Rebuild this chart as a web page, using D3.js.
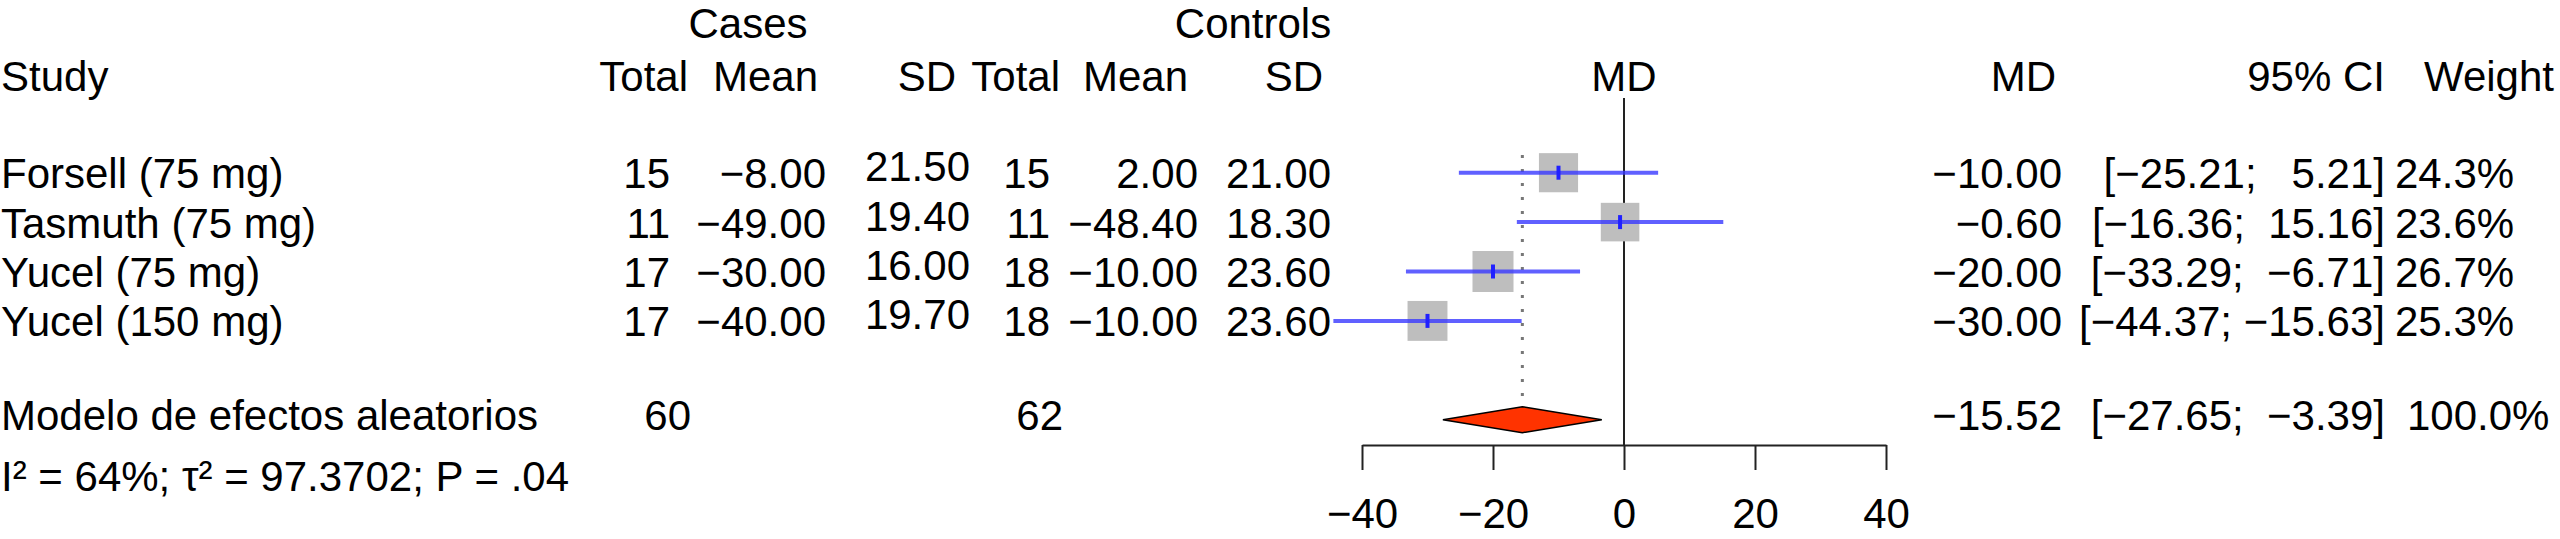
<!DOCTYPE html>
<html>
<head>
<meta charset="utf-8">
<script src="https://cdn.jsdelivr.net/npm/d3@7.8.5/dist/d3.min.js"></script>
<style>
  body { margin: 0; background: #fff; }
  svg text { font-family: "Liberation Sans", Arial, Helvetica, sans-serif; font-size: 42px; fill: #000; white-space: pre; }
</style>
</head>
<body>
<script>
// study data
const studies = ["Forsell (75 mg)", "Tasmuth (75 mg)", "Yucel (75 mg)", "Yucel (150 mg)"];
const casesTotal = [15, 11, 17, 17];
const casesMean = [-8.00, -49.00, -30.00, -40.00];
const casesSD = [21.50, 19.40, 16.00, 19.70];
const ctrlTotal = [15, 11, 18, 18];
const ctrlMean = [2.00, -48.40, -10.00, -10.00];
const ctrlSD = [21.00, 18.30, 23.60, 23.60];
const md = [-10.00, -0.60, -20.00, -30.00];
const ciLower = [-25.21, -16.36, -33.29, -44.37];
const ciUpper = [5.21, 15.16, -6.71, -15.63];
const weight = [24.3, 23.6, 26.7, 25.3];

// pooled (random effects)
const pooledLabel = "Modelo de efectos aleatorios";
const pooledTotals = [60, 62];
const pooledMD = -15.52;
const pooledCI = [-27.65, -3.39];
const pooledWeight = 100.0;
const heterogeneity = "I\u00b2 = 64%; \u03c4\u00b2 = 97.3702; P = .04";

const xTicks = [-40, -20, 0, 20, 40];

const W = 2560, H = 539;
const svg = d3.select("body").append("svg")
    .attr("width", W)
    .attr("height", H);

const f2 = d3.format(".2f");
const f1 = d3.format(".1f");

// row positions (0..3 studies, 5 pooled)
const y = d3.scaleLinear().domain([0, 1]).range([172.7, 222.1]);
const x = d3.scaleLinear().domain([-40, 40]).range([1362, 1886]);
const side = d3.scaleSqrt().domain([0, d3.max(weight)]).range([0, 41]);

// header
const hdr = svg.append("g");
hdr.append("text").attr("x", 748).attr("y", 38).attr("text-anchor", "middle").text("Cases");
hdr.append("text").attr("x", 1253).attr("y", 38).attr("text-anchor", "middle").text("Controls");
hdr.append("text").attr("x", 1).attr("y", 91).text("Study");
[["Total", 688], ["Mean", 818], ["SD", 956], ["Total", 1060], ["Mean", 1188], ["SD", 1323],
 ["MD", 2056], ["95% CI", 2385], ["Weight", 2554]].forEach(([t, px]) => {
    hdr.append("text").attr("x", px).attr("y", 91).attr("text-anchor", "end").text(t);
});
hdr.append("text").attr("x", x(0)).attr("y", 91).attr("text-anchor", "middle").text("MD");

// CI text like R's formatCI
const uppers = ciUpper.concat([pooledCI[1]]).map(f2);
const upW = d3.max(uppers, s => s.length);
function ciText(l, u) {
    const us = f2(u);
    return "[" + f2(l) + "; " + " ".repeat(upW - us.length) + us + "]";
}

// study rows
const cols = [
    {vals: casesTotal, fmt: String, x: 670, dy: 0},
    {vals: casesMean, fmt: f2, x: 826, dy: 0},
    {vals: casesSD, fmt: f2, x: 970, dy: -7},
    {vals: ctrlTotal, fmt: String, x: 1050, dy: 0},
    {vals: ctrlMean, fmt: f2, x: 1198, dy: 0},
    {vals: ctrlSD, fmt: f2, x: 1331, dy: 0},
    {vals: md, fmt: f2, x: 2062, dy: 0}
];

const rows = svg.append("g");
studies.forEach((s, i) => {
    const by = y(i) + 15.5;
    rows.append("text").attr("x", 1).attr("y", by).text(s);
    cols.forEach(c => {
        rows.append("text").attr("x", c.x).attr("y", by + c.dy)
            .attr("text-anchor", "end").text(c.fmt(c.vals[i]));
    });
    rows.append("text").attr("x", 2385).attr("y", by).attr("text-anchor", "end")
        .text(ciText(ciLower[i], ciUpper[i]));
    rows.append("text").attr("x", 2395).attr("y", by).text(f1(weight[i]) + "%");
});

// pooled row
const py = y(5);
rows.append("text").attr("x", 1).attr("y", 430).text(pooledLabel);
rows.append("text").attr("x", 691).attr("y", 430).attr("text-anchor", "end").text(pooledTotals[0]);
rows.append("text").attr("x", 1063).attr("y", 430).attr("text-anchor", "end").text(pooledTotals[1]);
rows.append("text").attr("x", 2062).attr("y", 430).attr("text-anchor", "end").text(f2(pooledMD));
rows.append("text").attr("x", 2385).attr("y", 430).attr("text-anchor", "end").text(ciText(pooledCI[0], pooledCI[1]));
rows.append("text").attr("x", 2407).attr("y", 430).text(f1(pooledWeight) + "%");
rows.append("text").attr("x", 1).attr("y", 491).text(heterogeneity);

// plot
const plot = svg.append("g");
const axisY = 445;

plot.append("line")
    .attr("x1", x(0)).attr("x2", x(0))
    .attr("y1", 98).attr("y2", axisY)
    .attr("stroke", "#222").attr("stroke-width", 2);

plot.append("line")
    .attr("x1", x(pooledMD)).attr("x2", x(pooledMD))
    .attr("y1", 155).attr("y2", py - 13)
    .attr("stroke", "#777").attr("stroke-width", 3)
    .attr("stroke-dasharray", "3,11");

const g = plot.selectAll("g.study").data(md).join("g").attr("class", "study");
g.append("rect")
    .attr("x", (d, i) => x(d) - side(weight[i]) / 2)
    .attr("y", (d, i) => y(i) - side(weight[i]) / 2)
    .attr("width", (d, i) => side(weight[i]))
    .attr("height", (d, i) => side(weight[i]))
    .attr("fill", "#bebebe");
g.append("line")
    .attr("x1", (d, i) => x(ciLower[i]))
    .attr("x2", (d, i) => x(ciUpper[i]))
    .attr("y1", (d, i) => y(i)).attr("y2", (d, i) => y(i))
    .attr("stroke", "#3838ff").attr("stroke-opacity", 0.8).attr("stroke-width", 4);
g.append("line")
    .attr("x1", d => x(d)).attr("x2", d => x(d))
    .attr("y1", (d, i) => y(i) - 7).attr("y2", (d, i) => y(i) + 7)
    .attr("stroke", "#2020ff").attr("stroke-width", 4);

plot.append("polygon")
    .attr("points", [
        [x(pooledCI[0]), py], [x(pooledMD), py - 13],
        [x(pooledCI[1]), py], [x(pooledMD), py + 13]
    ].map(p => p.join(",")).join(" "))
    .attr("fill", "#ff3300").attr("stroke", "#000").attr("stroke-width", 1.5);

const axis = plot.append("g")
    .attr("transform", `translate(0,${axisY})`)
    .call(d3.axisBottom(x).tickValues(xTicks).tickSize(25).tickSizeOuter(0).tickPadding(28));
axis.select(".domain").attr("stroke", "#222").attr("stroke-width", 2);
axis.selectAll(".tick line").attr("stroke", "#222").attr("stroke-width", 2);
axis.selectAll(".tick text")
    .attr("font-family", null).attr("font-size", null)
    .style("font-size", "42px").style("fill", "#000");
</script>
</body>
</html>
